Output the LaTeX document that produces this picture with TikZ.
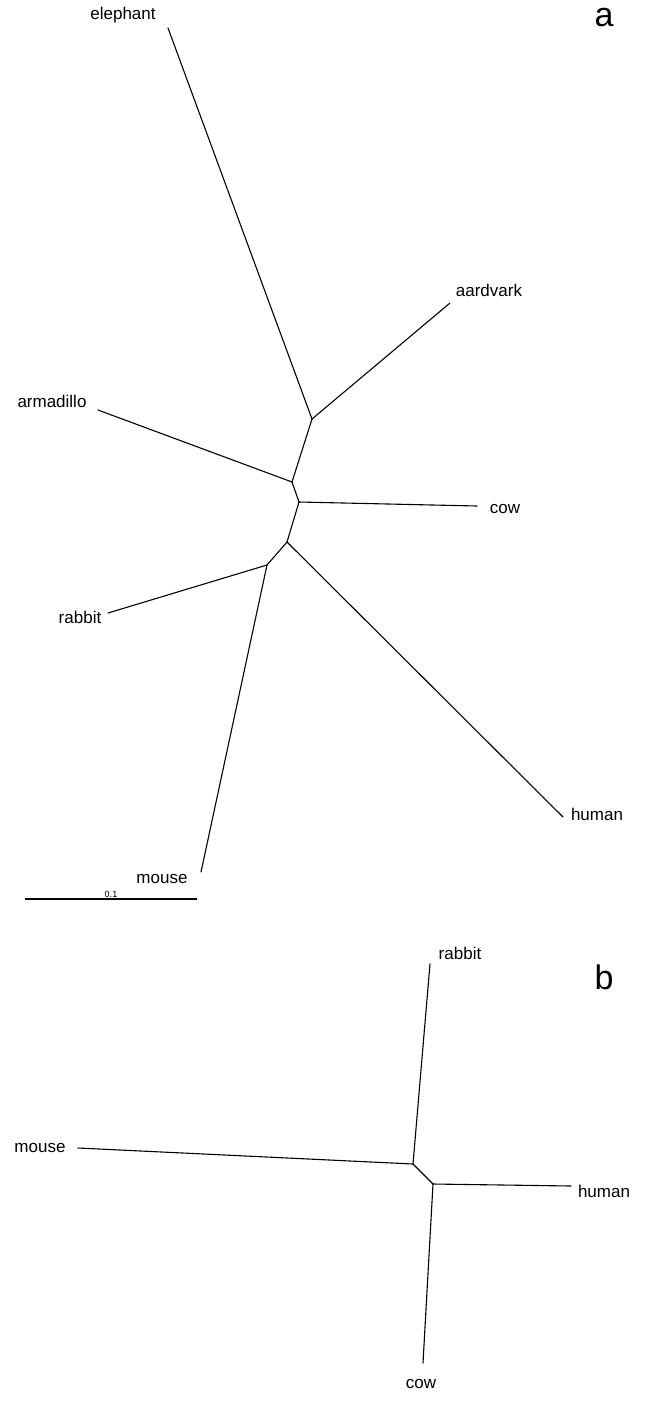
\documentclass[tikz,border=0pt]{standalone}
\usepackage{fontspec}
\setmainfont{Liberation Sans}
\tikzset{
  branch/.style={line width=1.1pt, line cap=round, line join=round},
  taxon/.style={inner sep=0pt, font=\fontsize{17}{20}\selectfont},
  panel/.style={inner sep=0pt, font=\fontsize{34}{40}\selectfont},
  scalelabel/.style={inner sep=0pt, font=\fontsize{9}{11}\selectfont}
}
\begin{document}
\begin{tikzpicture}[x=1pt, y=-1pt]
\useasboundingbox (0,0) rectangle (649,1414);

% ---------- tree a: internal nodes ----------
\coordinate (a1) at (312,419);
\coordinate (a2) at (292,482);
\coordinate (a3) at (299,502);
\coordinate (a4) at (287,542);
\coordinate (a5) at (267,565);
% leaf tips
\coordinate (tEle) at (168,28);
\coordinate (tAar) at (450,303);
\coordinate (tArm) at (98,410);
\coordinate (tCow) at (477,506);
\coordinate (tRab) at (108,613);
\coordinate (tHum) at (563,817);
\coordinate (tMou) at (201,872);

\draw[branch] (a1) -- (tEle);
\draw[branch] (a1) -- (tAar);
\draw[branch] (a1) -- (a2);
\draw[branch] (a2) -- (tArm);
\draw[branch] (a2) -- (a3);
\draw[branch] (a3) -- (tCow);
\draw[branch] (a3) -- (a4);
\draw[branch] (a4) -- (tHum);
\draw[branch] (a4) -- (a5);
\draw[branch] (a5) -- (tRab);
\draw[branch] (a5) -- (tMou);

\node[taxon] (lEle) at (123,15) {elephant};
\node[taxon] (lAar) at (489,290) {aardvark};
\node[taxon] (lArm) at (52,401) {armadillo};
\node[taxon] (lCow) at (505,509) {cow};
\node[taxon] (lRab) at (80,617) {rabbit};
\node[taxon] (lHum) at (597,814) {human};
\node[taxon] (lMou) at (162,879) {mouse};
\node[panel] (pa) at (604,18) {a};

% scale bar
\coordinate (sb1) at (25,899);
\coordinate (sb2) at (197,899);
\draw[line width=1.1pt] (sb1) -- (sb2);
\node[scalelabel, anchor=base] (sbl) at (111,897) {0.1};

% ---------- tree b ----------
\coordinate (b1) at (413,1164);
\coordinate (b2) at (433,1184);
\coordinate (uRab) at (430,964);
\coordinate (uMou) at (78,1148);
\coordinate (uHum) at (571,1186);
\coordinate (uCow) at (423,1363);

\draw[branch] (b1) -- (uRab);
\draw[branch] (b1) -- (uMou);
\draw[branch] (b1) -- (b2);
\draw[branch] (b2) -- (uHum);
\draw[branch] (b2) -- (uCow);

\node[taxon] (mRab) at (460,953) {rabbit};
\node[taxon] (mMou) at (40,1148) {mouse};
\node[taxon] (mHum) at (604,1191) {human};
\node[taxon] (mCow) at (421,1384) {cow};
\node[panel] (pb) at (604,977) {b};
\end{tikzpicture}
\end{document}
